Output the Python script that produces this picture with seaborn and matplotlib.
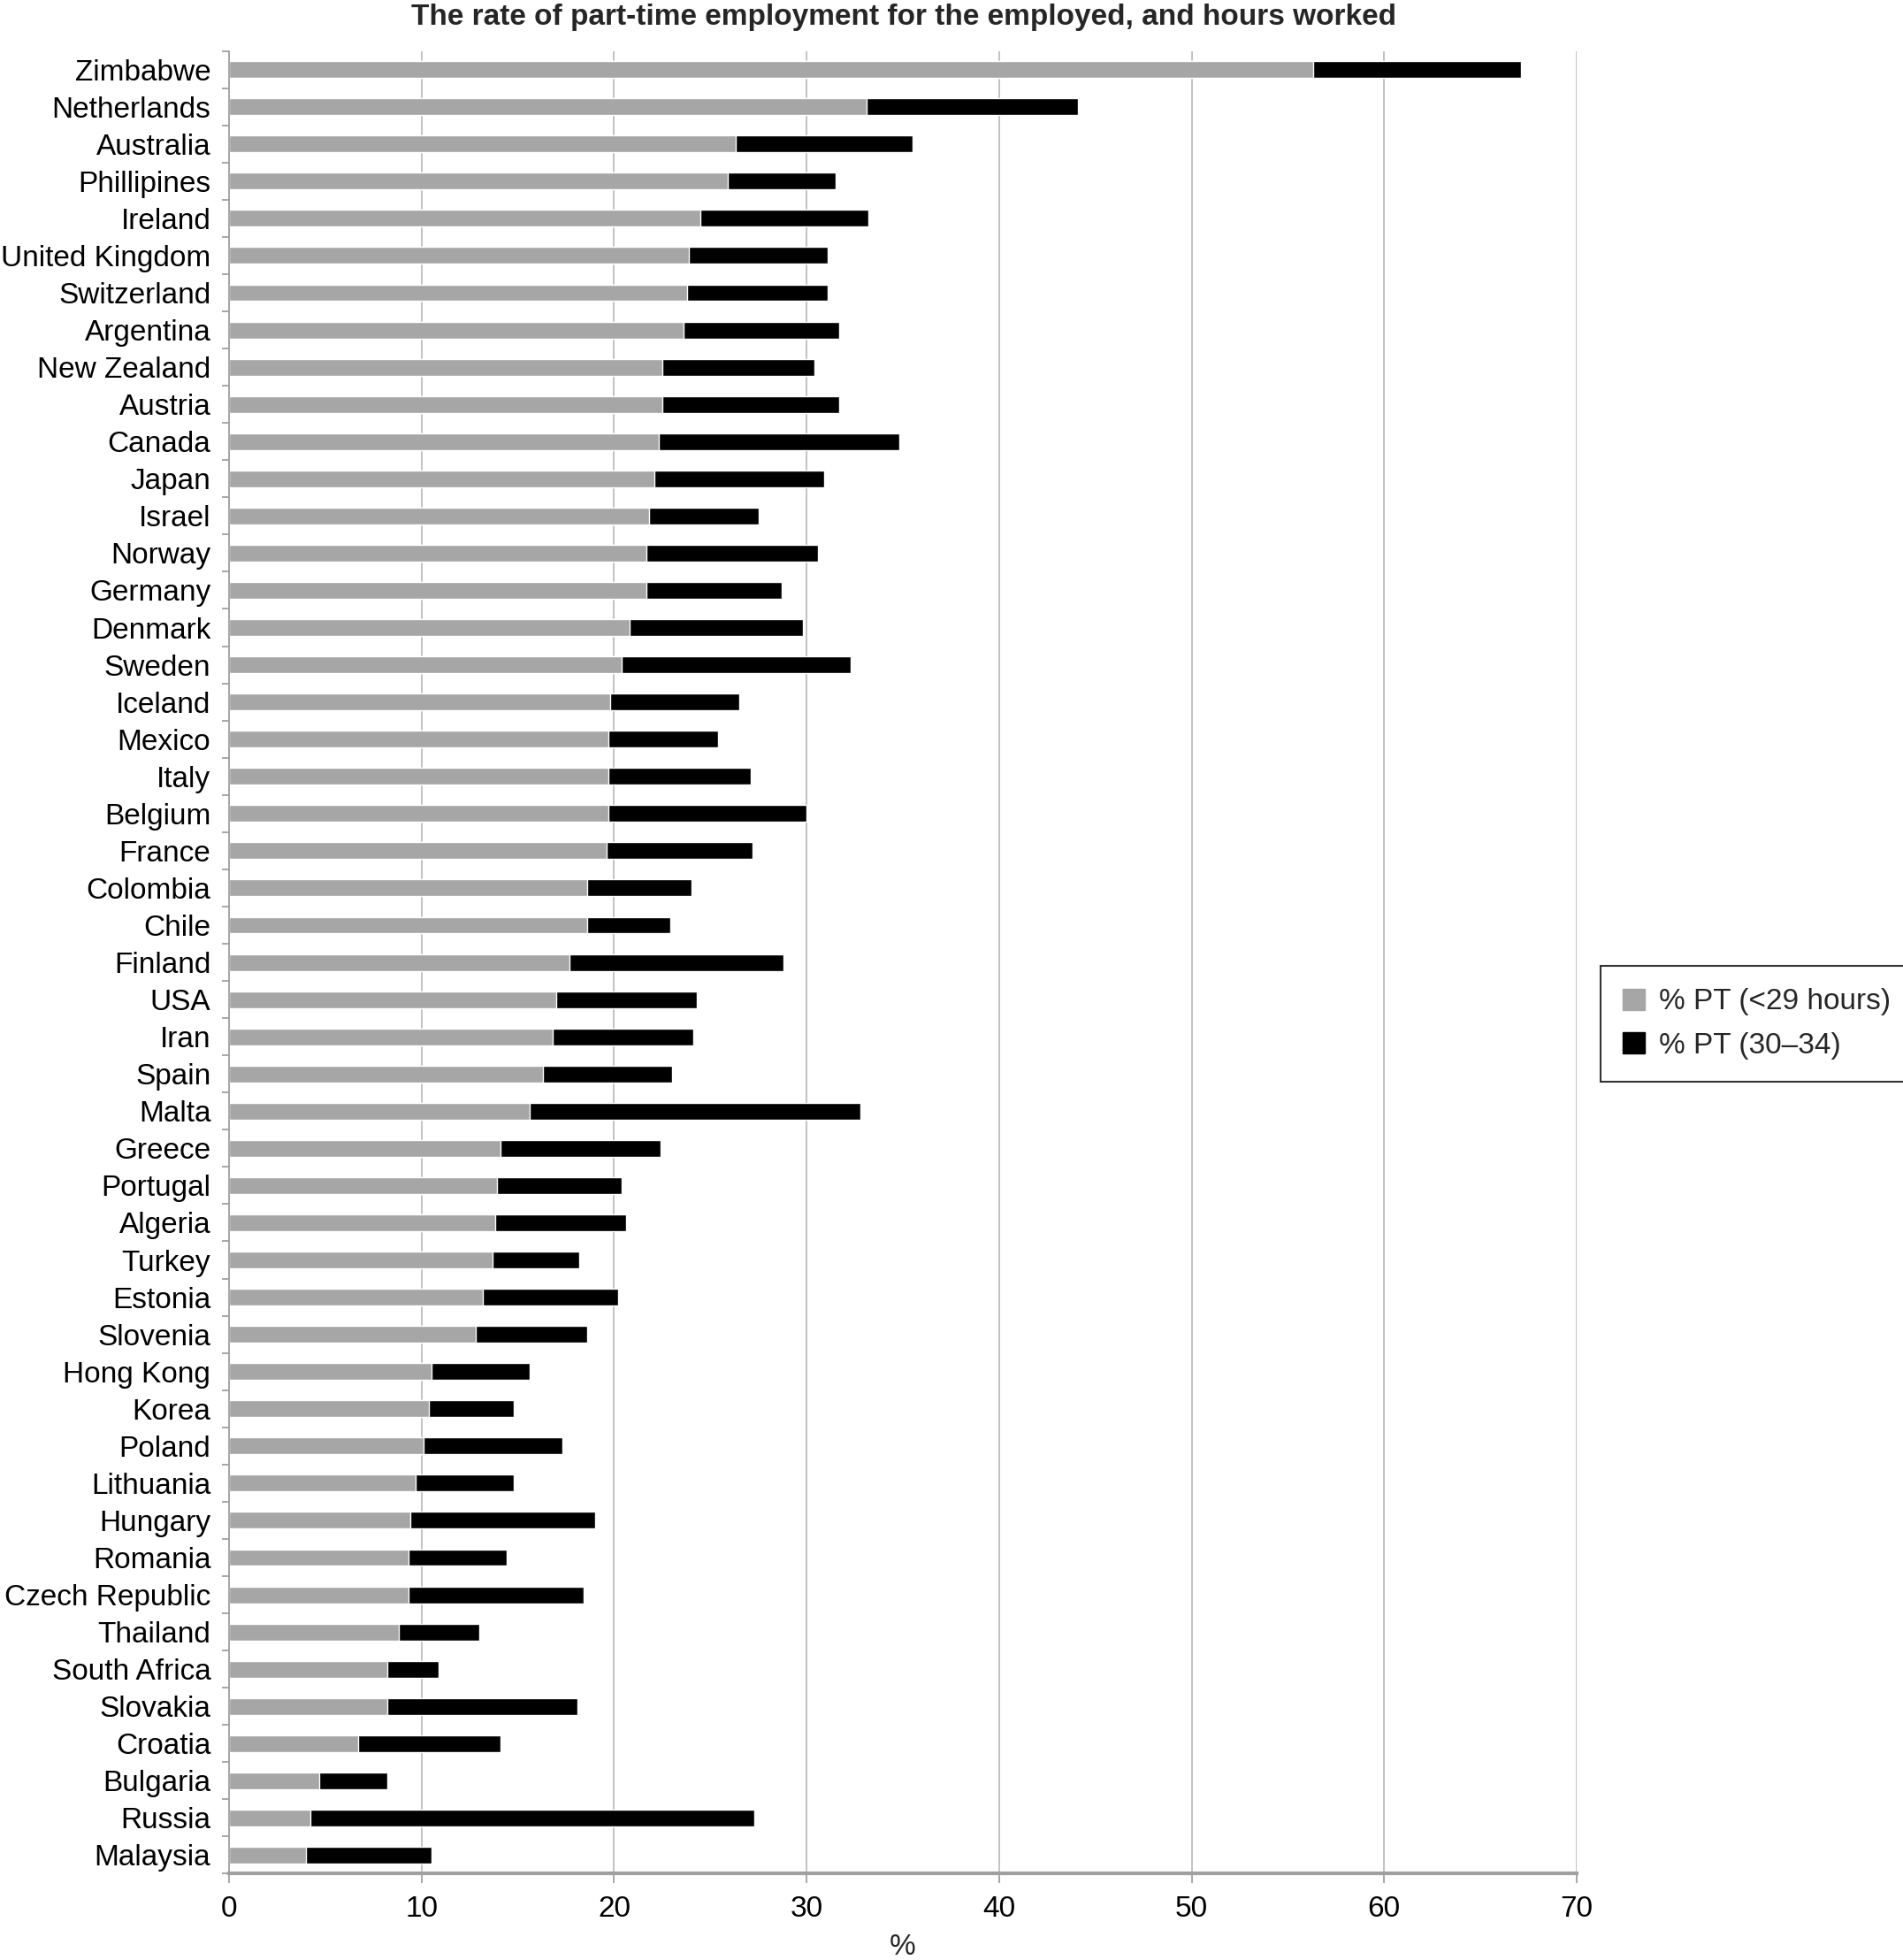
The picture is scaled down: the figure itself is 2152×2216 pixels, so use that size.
import matplotlib
matplotlib.use("Agg")
import matplotlib.pyplot as plt
import seaborn as sns
import pandas as pd
import numpy as np
from matplotlib.patches import Patch

countries = ["Zimbabwe", "Netherlands", "Australia", "Phillipines", "Ireland",
             "United Kingdom", "Switzerland", "Argentina", "New Zealand", "Austria",
             "Canada", "Japan", "Israel", "Norway", "Germany", "Denmark", "Sweden",
             "Iceland", "Mexico", "Italy", "Belgium", "France", "Colombia", "Chile",
             "Finland", "USA", "Iran", "Spain", "Malta", "Greece", "Portugal",
             "Algeria", "Turkey", "Estonia", "Slovenia", "Hong Kong", "Korea",
             "Poland", "Lithuania", "Hungary", "Romania", "Czech Republic",
             "Thailand", "South Africa", "Slovakia", "Croatia", "Bulgaria",
             "Russia", "Malaysia"]

pt_under29 = [56.3, 33.1, 26.3, 25.9, 24.5, 23.9, 23.8, 23.6, 22.5, 22.5,
              22.3, 22.1, 21.8, 21.7, 21.7, 20.8, 20.4, 19.8, 19.7, 19.7,
              19.7, 19.6, 18.6, 18.6, 17.7, 17.0, 16.8, 16.3, 15.6, 14.1,
              13.9, 13.8, 13.7, 13.2, 12.8, 10.5, 10.4, 10.1, 9.7, 9.4,
              9.3, 9.3, 8.8, 8.2, 8.2, 6.7, 4.7, 4.2, 4.0]

pt_30_34 = [10.8, 11.0, 9.2, 5.6, 8.7, 7.2, 7.3, 8.1, 7.9, 9.2,
            12.5, 8.8, 5.7, 8.9, 7.0, 9.0, 11.9, 6.7, 5.7, 7.4,
            10.3, 7.6, 5.4, 4.3, 11.1, 7.3, 7.3, 6.7, 17.2, 8.3,
            6.5, 6.8, 4.5, 7.0, 5.8, 5.1, 4.4, 7.2, 5.1, 9.6,
            5.1, 9.1, 4.2, 2.7, 9.9, 7.4, 3.5, 23.1, 6.5]

xticks = [0, 10, 20, 30, 40, 50, 60, 70]
series_names = ["% PT (<29 hours)", "% PT (30\u201334)"]

df = pd.DataFrame({"country": countries,
                   "short": pt_under29,
                   "mid": pt_30_34})
df["total"] = df["short"] + df["mid"]

sns.set_theme(style="white")
plt.rcParams["font.family"] = ["Liberation Sans", "DejaVu Sans"]

fig = plt.figure(figsize=(21.52, 22.16), dpi=100)
ax = fig.add_axes([0.1204, 0.0440, 0.8285 - 0.1204, 0.9740 - 0.0440])

gray = "#A6A6A6"
black = "#000000"

sns.barplot(data=df, y="country", x="total", color=black, orient="h",
            width=0.45, ax=ax, saturation=1)
sns.barplot(data=df, y="country", x="short", color=gray, orient="h",
            width=0.45, ax=ax, saturation=1)

ax.set_xlim(0, 70)
ax.set_ylim(len(countries) - 0.5, -0.5)
ax.set_xticks(xticks)
ax.set_xticklabels([str(t) for t in xticks])
ax.xaxis.grid(True, color="#BDBDBD", linewidth=1.3)
ax.set_axisbelow(True)

for s in ["top", "right"]:
    ax.spines[s].set_visible(False)
ax.spines["left"].set_color("#A0A0A0")
ax.spines["left"].set_linewidth(1.3)
ax.spines["bottom"].set_color("#A0A0A0")
ax.spines["bottom"].set_linewidth(3)

ax.tick_params(axis="y", which="major", length=0, pad=15, labelsize=24, labelcolor="black")
ax.set_yticks(np.arange(-0.5, len(countries), 1.0), minor=True)
ax.tick_params(axis="y", which="minor", length=6, width=1.3, color="#A0A0A0", left=True)
ax.tick_params(axis="x", which="major", length=8, width=1.3, color="#A0A0A0",
               bottom=True, pad=10, labelsize=24, labelcolor="black")

ax.set_ylabel("")
ax.set_xlabel("%", fontsize=24, labelpad=8)

fig.text(0.475, 0.991, "The rate of part-time employment for the employed, and hours worked",
         ha="center", va="center", fontsize=24, fontweight="bold")

handles = [Patch(facecolor=gray, edgecolor=gray, label=series_names[0]),
           Patch(facecolor=black, edgecolor=black, label=series_names[1])]
leg = ax.legend(handles=handles, loc="upper left", bbox_to_anchor=(0.841, 0.507),
                bbox_transform=fig.transFigure, fontsize=24, frameon=True,
                fancybox=False, borderaxespad=0, borderpad=0.75,
                handlelength=0.75, handleheight=0.75, handletextpad=0.5, labelspacing=0.55)
leg.get_frame().set_edgecolor("black")
leg.get_frame().set_linewidth(1.5)

fig.savefig("out.png", dpi=100)
